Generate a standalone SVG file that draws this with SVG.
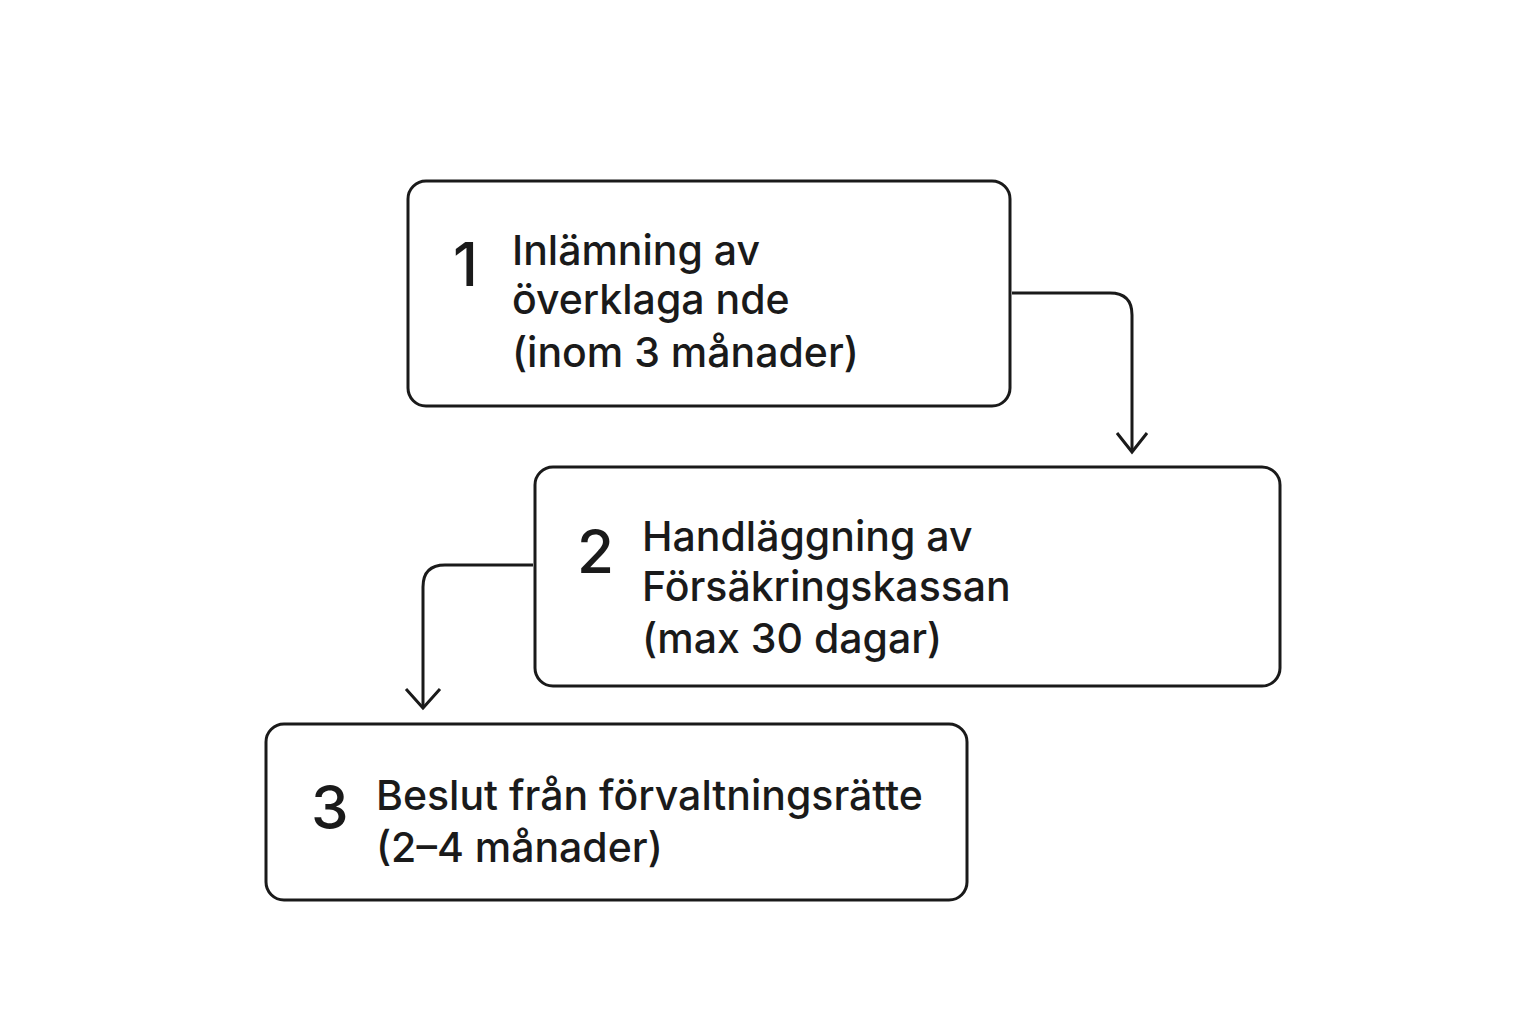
<svg xmlns="http://www.w3.org/2000/svg" width="1536" height="1024" viewBox="0 0 1536 1024">
<style>
.box{fill:#fff;stroke:#1a1a1a;stroke-width:3}
.t{font-family:Inter,"Liberation Sans",Arial,sans-serif;font-size:41px;font-weight:500;fill:#1a1a1a}
.n{font-family:Inter,"Liberation Sans",Arial,sans-serif;font-size:60px;font-weight:500;fill:#1a1a1a}
.c{fill:none;stroke:#1a1a1a;stroke-width:3}
</style>
<rect width="1536" height="1024" fill="#fff"/>
<g id="connectors">
<path class="c" d="M1012 293 H1110 Q1132 293 1132 315 V452"/>
<path class="c" d="M1117 433 L1132 452 L1147 433"/>
<path class="c" d="M533 565 H445 Q423 565 423 587 V708"/>
<path class="c" d="M406 689 L423 708 L440 689"/>
</g>
<g id="node1">
<rect class="box" x="408" y="181" width="602" height="225" rx="18"/>
<text class="n" x="453" y="286">1</text>
<text class="t" x="512" y="265">Inlämning av</text>
<text class="t" x="512" y="314">överklaga nde</text>
<text class="t" x="512" y="367">(inom 3 månader)</text>
</g>
<g id="node2">
<rect class="box" x="535" y="467" width="745" height="219" rx="18"/>
<text class="n" x="577" y="573">2</text>
<text class="t" x="642" y="551">Handläggning av</text>
<text class="t" x="642" y="601">Försäkringskassan</text>
<text class="t" x="642" y="653">(max 30 dagar)</text>
</g>
<g id="node3">
<rect class="box" x="266" y="724" width="701" height="176" rx="18"/>
<text class="n" x="311" y="829">3</text>
<text class="t" x="376" y="810">Beslut från förvaltningsrätte</text>
<text class="t" x="376" y="862">(2–4 månader)</text>
</g>
</svg>
